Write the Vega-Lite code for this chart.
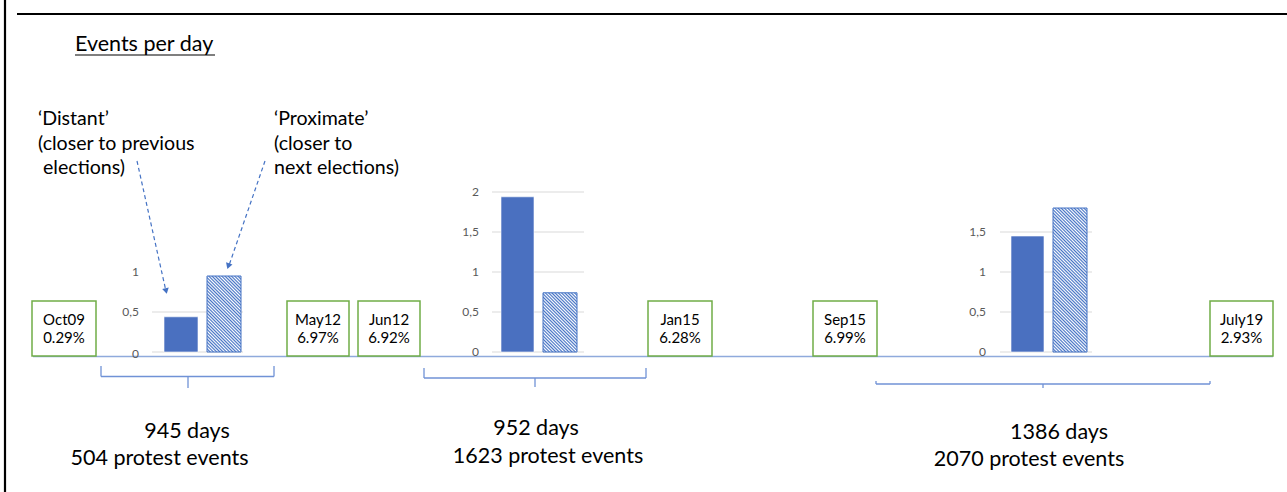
{
  "$schema": "https://vega.github.io/schema/vega-lite/v6.json",
  "width": 1287,
  "height": 492,
  "padding": 0,
  "autosize": {"type": "none"},
  "background": "white",
  "config": {"view": {"stroke": null}, "font": "Lato"},
  "datasets": {
    "frame": [
      {"x": 5, "y": 0, "x2": 5, "y2": 492},
      {"x": 17, "y": 14, "x2": 1287, "y2": 14}
    ],
    "underline": [{"x": 75, "y": 55, "x2": 215, "y2": 55}],
    "baseline": [{"x": 33, "y": 356.5, "x2": 1273, "y2": 356.5}],
    "braces": [
      {"x": 101, "y": 366, "x2": 101, "y2": 376.5},
      {"x": 101, "y": 376.5, "x2": 274, "y2": 376.5},
      {"x": 274, "y": 366, "x2": 274, "y2": 376.5},
      {"x": 188, "y": 376.5, "x2": 188, "y2": 388},
      {"x": 424, "y": 368, "x2": 424, "y2": 378},
      {"x": 424, "y": 378, "x2": 646, "y2": 378},
      {"x": 646, "y": 368, "x2": 646, "y2": 378},
      {"x": 535, "y": 378, "x2": 535, "y2": 387},
      {"x": 876, "y": 381, "x2": 876, "y2": 384},
      {"x": 876, "y": 384, "x2": 1210, "y2": 384},
      {"x": 1210, "y": 381, "x2": 1210, "y2": 384},
      {"x": 1043, "y": 384, "x2": 1043, "y2": 388}
    ],
    "arrows": [
      {"x": 137, "y": 161, "x2": 165.5, "y2": 289},
      {"x": 265, "y": 161, "x2": 229.5, "y2": 264}
    ],
    "arrowheads": [
      {"x": 166.1, "y": 291, "angle": -12.4},
      {"x": 228.3, "y": 266.2, "angle": 18.9}
    ],
    "heading": [{"text": "Events per day", "x": 75, "y": 51}],
    "notes": [
      {"text": "‘Distant’", "x": 38, "y": 125},
      {"text": "(closer to previous", "x": 38, "y": 150},
      {"text": "elections)", "x": 43, "y": 174},
      {"text": "‘Proximate’", "x": 274, "y": 125},
      {"text": "(closer to", "x": 274, "y": 150},
      {"text": "next elections)", "x": 274, "y": 174}
    ],
    "counts": [
      {"text": "945 days", "x": 187, "y": 438},
      {"text": "504 protest events", "x": 159.5, "y": 465},
      {"text": "952 days", "x": 536, "y": 435},
      {"text": "1623 protest events", "x": 548, "y": 463},
      {"text": "1386 days", "x": 1059, "y": 439},
      {"text": "2070 protest events", "x": 1029, "y": 466}
    ],
    "boxes": [
      {"label": "Oct09", "share": "0.29%", "x": 32, "x2": 96},
      {"label": "May12", "share": "6.97%", "x": 287, "x2": 349},
      {"label": "Jun12", "share": "6.92%", "x": 358, "x2": 420},
      {"label": "Jan15", "share": "6.28%", "x": 648, "x2": 712},
      {"label": "Sep15", "share": "6.99%", "x": 813, "x2": 877},
      {"label": "July19", "share": "2.93%", "x": 1210, "x2": 1273}
    ],
    "grid": [
      {"x": 152, "x2": 243, "v": 0},
      {"x": 152, "x2": 243, "v": 0.5},
      {"x": 492, "x2": 584, "v": 0},
      {"x": 492, "x2": 584, "v": 0.5},
      {"x": 492, "x2": 584, "v": 1},
      {"x": 492, "x2": 584, "v": 1.5},
      {"x": 492, "x2": 584, "v": 2},
      {"x": 1000, "x2": 1092, "v": 0},
      {"x": 1000, "x2": 1092, "v": 0.5},
      {"x": 1000, "x2": 1092, "v": 1},
      {"x": 1000, "x2": 1092, "v": 1.5}
    ],
    "ticks": [
      {"label": "0", "x": 139, "v": -0.03},
      {"label": "0,5", "x": 139, "v": 0.5},
      {"label": "1", "x": 139, "v": 1},
      {"label": "0", "x": 479, "v": 0},
      {"label": "0,5", "x": 479, "v": 0.5},
      {"label": "1", "x": 479, "v": 1},
      {"label": "1,5", "x": 479, "v": 1.5},
      {"label": "2", "x": 479, "v": 2},
      {"label": "0", "x": 986, "v": 0},
      {"label": "0,5", "x": 986, "v": 0.5},
      {"label": "1", "x": 986, "v": 1},
      {"label": "1,5", "x": 986, "v": 1.5}
    ],
    "bars": [
      {"period": "Oct09-May12", "phase": "Distant", "x": 164, "x2": 198, "v": 0.44},
      {"period": "Oct09-May12", "phase": "Proximate", "x": 207, "x2": 241, "v": 0.95},
      {"period": "Jun12-Jan15", "phase": "Distant", "x": 501, "x2": 534, "v": 1.94},
      {"period": "Jun12-Jan15", "phase": "Proximate", "x": 543, "x2": 577, "v": 0.74},
      {"period": "Sep15-July19", "phase": "Distant", "x": 1011, "x2": 1044, "v": 1.45},
      {"period": "Sep15-July19", "phase": "Proximate", "x": 1053, "x2": 1087, "v": 1.8}
    ]
  },
  "layer": [
    {
      "layer": [
        {
          "data": {"name": "baseline"},
          "mark": {"type": "rule", "stroke": "#8FAADC", "strokeWidth": 1.5},
          "encoding": {
            "x": {"field": "x", "type": "quantitative", "scale": {"domain": [0, 1287], "nice": false, "zero": false}, "axis": null},
            "x2": {"field": "x2"},
            "y": {"field": "y", "type": "quantitative", "scale": {"domain": [0, 492], "reverse": true, "nice": false, "zero": false}, "axis": null},
            "y2": {"field": "y2"}
          }
        },
        {
          "data": {"name": "frame"},
          "mark": {"type": "rule", "stroke": "black", "strokeWidth": 2.2},
          "encoding": {
            "x": {"field": "x", "type": "quantitative", "scale": {"domain": [0, 1287], "nice": false, "zero": false}, "axis": null},
            "x2": {"field": "x2"},
            "y": {"field": "y", "type": "quantitative", "scale": {"domain": [0, 492], "reverse": true, "nice": false, "zero": false}, "axis": null},
            "y2": {"field": "y2"}
          }
        },
        {
          "data": {"name": "underline"},
          "mark": {"type": "rule", "stroke": "black", "strokeWidth": 1.2},
          "encoding": {
            "x": {"field": "x", "type": "quantitative", "scale": {"domain": [0, 1287], "nice": false, "zero": false}, "axis": null},
            "x2": {"field": "x2"},
            "y": {"field": "y", "type": "quantitative", "scale": {"domain": [0, 492], "reverse": true, "nice": false, "zero": false}, "axis": null},
            "y2": {"field": "y2"}
          }
        },
        {
          "data": {"name": "braces"},
          "mark": {"type": "rule", "stroke": "#7092D6", "strokeWidth": 1.3},
          "encoding": {
            "x": {"field": "x", "type": "quantitative", "scale": {"domain": [0, 1287], "nice": false, "zero": false}, "axis": null},
            "x2": {"field": "x2"},
            "y": {"field": "y", "type": "quantitative", "scale": {"domain": [0, 492], "reverse": true, "nice": false, "zero": false}, "axis": null},
            "y2": {"field": "y2"}
          }
        },
        {
          "data": {"name": "arrows"},
          "mark": {"type": "rule", "stroke": "#4472C4", "strokeWidth": 1.2, "strokeDash": [4, 3]},
          "encoding": {
            "x": {"field": "x", "type": "quantitative", "scale": {"domain": [0, 1287], "nice": false, "zero": false}, "axis": null},
            "x2": {"field": "x2"},
            "y": {"field": "y", "type": "quantitative", "scale": {"domain": [0, 492], "reverse": true, "nice": false, "zero": false}, "axis": null},
            "y2": {"field": "y2"}
          }
        },
        {
          "data": {"name": "arrowheads"},
          "mark": {"type": "point", "shape": "triangle-down", "filled": true, "fill": "#4472C4", "size": 45, "strokeWidth": 0, "opacity": 1},
          "encoding": {
            "x": {"field": "x", "type": "quantitative", "scale": {"domain": [0, 1287], "nice": false, "zero": false}, "axis": null},
            "y": {"field": "y", "type": "quantitative", "scale": {"domain": [0, 492], "reverse": true, "nice": false, "zero": false}, "axis": null},
            "angle": {"field": "angle", "type": "quantitative", "scale": null}
          }
        },
        {
          "data": {"name": "boxes"},
          "mark": {"type": "rect", "fill": "white", "stroke": "#70AD47", "strokeWidth": 1.5},
          "encoding": {
            "x": {"field": "x", "type": "quantitative", "scale": {"domain": [0, 1287], "nice": false, "zero": false}, "axis": null},
            "x2": {"field": "x2"},
            "y": {"datum": 301, "type": "quantitative", "scale": {"domain": [0, 492], "reverse": true, "nice": false, "zero": false}, "axis": null},
            "y2": {"datum": 356}
          }
        },
        {
          "data": {"name": "boxes"},
          "transform": [{"calculate": "(datum.x + datum.x2) / 2", "as": "xc"}],
          "mark": {"type": "text", "font": "Lato", "fontSize": 15, "color": "black", "align": "center", "baseline": "alphabetic"},
          "encoding": {
            "x": {"field": "xc", "type": "quantitative", "scale": {"domain": [0, 1287], "nice": false, "zero": false}, "axis": null},
            "y": {"datum": 325, "type": "quantitative", "scale": {"domain": [0, 492], "reverse": true, "nice": false, "zero": false}, "axis": null},
            "text": {"field": "label"}
          }
        },
        {
          "data": {"name": "boxes"},
          "transform": [{"calculate": "(datum.x + datum.x2) / 2", "as": "xc"}],
          "mark": {"type": "text", "font": "Lato", "fontSize": 15, "color": "black", "align": "center", "baseline": "alphabetic"},
          "encoding": {
            "x": {"field": "xc", "type": "quantitative", "scale": {"domain": [0, 1287], "nice": false, "zero": false}, "axis": null},
            "y": {"datum": 343, "type": "quantitative", "scale": {"domain": [0, 492], "reverse": true, "nice": false, "zero": false}, "axis": null},
            "text": {"field": "share"}
          }
        },
        {
          "data": {"name": "heading"},
          "mark": {"type": "text", "font": "Lato", "fontSize": 21.5, "color": "black", "align": "left", "baseline": "alphabetic"},
          "encoding": {
            "x": {"field": "x", "type": "quantitative", "scale": {"domain": [0, 1287], "nice": false, "zero": false}, "axis": null},
            "y": {"field": "y", "type": "quantitative", "scale": {"domain": [0, 492], "reverse": true, "nice": false, "zero": false}, "axis": null},
            "text": {"field": "text"}
          }
        },
        {
          "data": {"name": "notes"},
          "mark": {"type": "text", "font": "Lato", "fontSize": 19.6, "color": "black", "align": "left", "baseline": "alphabetic"},
          "encoding": {
            "x": {"field": "x", "type": "quantitative", "scale": {"domain": [0, 1287], "nice": false, "zero": false}, "axis": null},
            "y": {"field": "y", "type": "quantitative", "scale": {"domain": [0, 492], "reverse": true, "nice": false, "zero": false}, "axis": null},
            "text": {"field": "text"}
          }
        },
        {
          "data": {"name": "counts"},
          "mark": {"type": "text", "font": "Lato", "fontSize": 21.5, "color": "black", "align": "center", "baseline": "alphabetic"},
          "encoding": {
            "x": {"field": "x", "type": "quantitative", "scale": {"domain": [0, 1287], "nice": false, "zero": false}, "axis": null},
            "y": {"field": "y", "type": "quantitative", "scale": {"domain": [0, 492], "reverse": true, "nice": false, "zero": false}, "axis": null},
            "text": {"field": "text"}
          }
        }
      ]
    },
    {
      "layer": [
        {
          "data": {"name": "grid"},
          "mark": {"type": "rule", "stroke": "#D9D9D9", "strokeWidth": 1},
          "encoding": {
            "x": {"field": "x", "type": "quantitative", "scale": {"domain": [0, 1287], "nice": false, "zero": false}, "axis": null},
            "x2": {"field": "x2"},
            "y": {"field": "v", "type": "quantitative", "scale": {"domain": [-1.75, 4.4], "nice": false, "zero": false}, "axis": null}
          }
        },
        {
          "data": {"name": "ticks"},
          "mark": {"type": "text", "font": "Lato", "fontSize": 12, "color": "#595959", "align": "right", "baseline": "middle"},
          "encoding": {
            "x": {"field": "x", "type": "quantitative", "scale": {"domain": [0, 1287], "nice": false, "zero": false}, "axis": null},
            "y": {"field": "v", "type": "quantitative", "scale": {"domain": [-1.75, 4.4], "nice": false, "zero": false}, "axis": null},
            "text": {"field": "label"}
          }
        },
        {
          "data": {"name": "bars"},
          "transform": [{"filter": "datum.phase === 'Distant'"}],
          "mark": {"type": "rect", "fill": "#4A70C0", "stroke": "white", "strokeWidth": 0.6},
          "encoding": {
            "x": {"field": "x", "type": "quantitative", "scale": {"domain": [0, 1287], "nice": false, "zero": false}, "axis": null},
            "x2": {"field": "x2"},
            "y": {"field": "v", "type": "quantitative", "scale": {"domain": [-1.75, 4.4], "nice": false, "zero": false}, "axis": null},
            "y2": {"datum": 0}
          }
        },
        {
          "data": {"name": "bars"},
          "transform": [{"filter": "datum.phase === 'Proximate' && datum.period === 'Oct09-May12'"}],
          "mark": {"type": "rect", "stroke": "#4472C4", "strokeWidth": 1,
            "fill": {"gradient": "linear", "x1": 0, "y1": 1, "x2": 0.8731, "y2": -0.9515, "stops": [
              {"offset": 0, "color": "#4472c4"}, {"offset": 0.0091, "color": "#ffffff"}, {"offset": 0.0182, "color": "#4472c4"}, {"offset": 0.0273, "color": "#ffffff"},
              {"offset": 0.0364, "color": "#4472c4"}, {"offset": 0.0455, "color": "#ffffff"}, {"offset": 0.0545, "color": "#4472c4"}, {"offset": 0.0636, "color": "#ffffff"},
              {"offset": 0.0727, "color": "#4472c4"}, {"offset": 0.0818, "color": "#ffffff"}, {"offset": 0.0909, "color": "#4472c4"}, {"offset": 0.1, "color": "#ffffff"},
              {"offset": 0.1091, "color": "#4472c4"}, {"offset": 0.1182, "color": "#ffffff"}, {"offset": 0.1273, "color": "#4472c4"}, {"offset": 0.1364, "color": "#ffffff"},
              {"offset": 0.1455, "color": "#4472c4"}, {"offset": 0.1545, "color": "#ffffff"}, {"offset": 0.1636, "color": "#4472c4"}, {"offset": 0.1727, "color": "#ffffff"},
              {"offset": 0.1818, "color": "#4472c4"}, {"offset": 0.1909, "color": "#ffffff"}, {"offset": 0.2, "color": "#4472c4"}, {"offset": 0.2091, "color": "#ffffff"},
              {"offset": 0.2182, "color": "#4472c4"}, {"offset": 0.2273, "color": "#ffffff"}, {"offset": 0.2364, "color": "#4472c4"}, {"offset": 0.2455, "color": "#ffffff"},
              {"offset": 0.2545, "color": "#4472c4"}, {"offset": 0.2636, "color": "#ffffff"}, {"offset": 0.2727, "color": "#4472c4"}, {"offset": 0.2818, "color": "#ffffff"},
              {"offset": 0.2909, "color": "#4472c4"}, {"offset": 0.3, "color": "#ffffff"}, {"offset": 0.3091, "color": "#4472c4"}, {"offset": 0.3182, "color": "#ffffff"},
              {"offset": 0.3273, "color": "#4472c4"}, {"offset": 0.3364, "color": "#ffffff"}, {"offset": 0.3455, "color": "#4472c4"}, {"offset": 0.3545, "color": "#ffffff"},
              {"offset": 0.3636, "color": "#4472c4"}, {"offset": 0.3727, "color": "#ffffff"}, {"offset": 0.3818, "color": "#4472c4"}, {"offset": 0.3909, "color": "#ffffff"},
              {"offset": 0.4, "color": "#4472c4"}, {"offset": 0.4091, "color": "#ffffff"}, {"offset": 0.4182, "color": "#4472c4"}, {"offset": 0.4273, "color": "#ffffff"},
              {"offset": 0.4364, "color": "#4472c4"}, {"offset": 0.4455, "color": "#ffffff"}, {"offset": 0.4545, "color": "#4472c4"}, {"offset": 0.4636, "color": "#ffffff"},
              {"offset": 0.4727, "color": "#4472c4"}, {"offset": 0.4818, "color": "#ffffff"}, {"offset": 0.4909, "color": "#4472c4"}, {"offset": 0.5, "color": "#ffffff"},
              {"offset": 0.5091, "color": "#4472c4"}, {"offset": 0.5182, "color": "#ffffff"}, {"offset": 0.5273, "color": "#4472c4"}, {"offset": 0.5364, "color": "#ffffff"},
              {"offset": 0.5455, "color": "#4472c4"}, {"offset": 0.5545, "color": "#ffffff"}, {"offset": 0.5636, "color": "#4472c4"}, {"offset": 0.5727, "color": "#ffffff"},
              {"offset": 0.5818, "color": "#4472c4"}, {"offset": 0.5909, "color": "#ffffff"}, {"offset": 0.6, "color": "#4472c4"}, {"offset": 0.6091, "color": "#ffffff"},
              {"offset": 0.6182, "color": "#4472c4"}, {"offset": 0.6273, "color": "#ffffff"}, {"offset": 0.6364, "color": "#4472c4"}
            ]}
          },
          "encoding": {
            "x": {"field": "x", "type": "quantitative", "scale": {"domain": [0, 1287], "nice": false, "zero": false}, "axis": null},
            "x2": {"field": "x2"},
            "y": {"field": "v", "type": "quantitative", "scale": {"domain": [-1.75, 4.4], "nice": false, "zero": false}, "axis": null},
            "y2": {"datum": 0}
          }
        },
        {
          "data": {"name": "bars"},
          "transform": [{"filter": "datum.phase === 'Proximate' && datum.period === 'Jun12-Jan15'"}],
          "mark": {"type": "rect", "stroke": "#4472C4", "strokeWidth": 1,
            "fill": {"gradient": "linear", "x1": 0, "y1": 1, "x2": 1.2985, "y2": -1.261, "stops": [
              {"offset": 0, "color": "#4472c4"}, {"offset": 0.0091, "color": "#ffffff"}, {"offset": 0.0182, "color": "#4472c4"}, {"offset": 0.0273, "color": "#ffffff"},
              {"offset": 0.0364, "color": "#4472c4"}, {"offset": 0.0455, "color": "#ffffff"}, {"offset": 0.0545, "color": "#4472c4"}, {"offset": 0.0636, "color": "#ffffff"},
              {"offset": 0.0727, "color": "#4472c4"}, {"offset": 0.0818, "color": "#ffffff"}, {"offset": 0.0909, "color": "#4472c4"}, {"offset": 0.1, "color": "#ffffff"},
              {"offset": 0.1091, "color": "#4472c4"}, {"offset": 0.1182, "color": "#ffffff"}, {"offset": 0.1273, "color": "#4472c4"}, {"offset": 0.1364, "color": "#ffffff"},
              {"offset": 0.1455, "color": "#4472c4"}, {"offset": 0.1545, "color": "#ffffff"}, {"offset": 0.1636, "color": "#4472c4"}, {"offset": 0.1727, "color": "#ffffff"},
              {"offset": 0.1818, "color": "#4472c4"}, {"offset": 0.1909, "color": "#ffffff"}, {"offset": 0.2, "color": "#4472c4"}, {"offset": 0.2091, "color": "#ffffff"},
              {"offset": 0.2182, "color": "#4472c4"}, {"offset": 0.2273, "color": "#ffffff"}, {"offset": 0.2364, "color": "#4472c4"}, {"offset": 0.2455, "color": "#ffffff"},
              {"offset": 0.2545, "color": "#4472c4"}, {"offset": 0.2636, "color": "#ffffff"}, {"offset": 0.2727, "color": "#4472c4"}, {"offset": 0.2818, "color": "#ffffff"},
              {"offset": 0.2909, "color": "#4472c4"}, {"offset": 0.3, "color": "#ffffff"}, {"offset": 0.3091, "color": "#4472c4"}, {"offset": 0.3182, "color": "#ffffff"},
              {"offset": 0.3273, "color": "#4472c4"}, {"offset": 0.3364, "color": "#ffffff"}, {"offset": 0.3455, "color": "#4472c4"}, {"offset": 0.3545, "color": "#ffffff"},
              {"offset": 0.3636, "color": "#4472c4"}, {"offset": 0.3727, "color": "#ffffff"}, {"offset": 0.3818, "color": "#4472c4"}, {"offset": 0.3909, "color": "#ffffff"},
              {"offset": 0.4, "color": "#4472c4"}, {"offset": 0.4091, "color": "#ffffff"}, {"offset": 0.4182, "color": "#4472c4"}, {"offset": 0.4273, "color": "#ffffff"},
              {"offset": 0.4364, "color": "#4472c4"}, {"offset": 0.4455, "color": "#ffffff"}, {"offset": 0.4545, "color": "#4472c4"}, {"offset": 0.4636, "color": "#ffffff"},
              {"offset": 0.4727, "color": "#4472c4"}, {"offset": 0.4818, "color": "#ffffff"}, {"offset": 0.4909, "color": "#4472c4"}, {"offset": 0.5, "color": "#ffffff"},
              {"offset": 0.5091, "color": "#4472c4"}, {"offset": 0.5182, "color": "#ffffff"}, {"offset": 0.5273, "color": "#4472c4"}, {"offset": 0.5364, "color": "#ffffff"},
              {"offset": 0.5455, "color": "#4472c4"}
            ]}
          },
          "encoding": {
            "x": {"field": "x", "type": "quantitative", "scale": {"domain": [0, 1287], "nice": false, "zero": false}, "axis": null},
            "x2": {"field": "x2"},
            "y": {"field": "v", "type": "quantitative", "scale": {"domain": [-1.75, 4.4], "nice": false, "zero": false}, "axis": null},
            "y2": {"datum": 0}
          }
        },
        {
          "data": {"name": "bars"},
          "transform": [{"filter": "datum.phase === 'Proximate' && datum.period === 'Sep15-July19'"}],
          "mark": {"type": "rect", "stroke": "#4472C4", "strokeWidth": 1,
            "fill": {"gradient": "linear", "x1": 0, "y1": 1, "x2": 0.2765, "y2": -0.1708, "stops": [
              {"offset": 0, "color": "#4472c4"}, {"offset": 0.0091, "color": "#ffffff"}, {"offset": 0.0182, "color": "#4472c4"}, {"offset": 0.0273, "color": "#ffffff"},
              {"offset": 0.0364, "color": "#4472c4"}, {"offset": 0.0455, "color": "#ffffff"}, {"offset": 0.0545, "color": "#4472c4"}, {"offset": 0.0636, "color": "#ffffff"},
              {"offset": 0.0727, "color": "#4472c4"}, {"offset": 0.0818, "color": "#ffffff"}, {"offset": 0.0909, "color": "#4472c4"}, {"offset": 0.1, "color": "#ffffff"},
              {"offset": 0.1091, "color": "#4472c4"}, {"offset": 0.1182, "color": "#ffffff"}, {"offset": 0.1273, "color": "#4472c4"}, {"offset": 0.1364, "color": "#ffffff"},
              {"offset": 0.1455, "color": "#4472c4"}, {"offset": 0.1545, "color": "#ffffff"}, {"offset": 0.1636, "color": "#4472c4"}, {"offset": 0.1727, "color": "#ffffff"},
              {"offset": 0.1818, "color": "#4472c4"}, {"offset": 0.1909, "color": "#ffffff"}, {"offset": 0.2, "color": "#4472c4"}, {"offset": 0.2091, "color": "#ffffff"},
              {"offset": 0.2182, "color": "#4472c4"}, {"offset": 0.2273, "color": "#ffffff"}, {"offset": 0.2364, "color": "#4472c4"}, {"offset": 0.2455, "color": "#ffffff"},
              {"offset": 0.2545, "color": "#4472c4"}, {"offset": 0.2636, "color": "#ffffff"}, {"offset": 0.2727, "color": "#4472c4"}, {"offset": 0.2818, "color": "#ffffff"},
              {"offset": 0.2909, "color": "#4472c4"}, {"offset": 0.3, "color": "#ffffff"}, {"offset": 0.3091, "color": "#4472c4"}, {"offset": 0.3182, "color": "#ffffff"},
              {"offset": 0.3273, "color": "#4472c4"}, {"offset": 0.3364, "color": "#ffffff"}, {"offset": 0.3455, "color": "#4472c4"}, {"offset": 0.3545, "color": "#ffffff"},
              {"offset": 0.3636, "color": "#4472c4"}, {"offset": 0.3727, "color": "#ffffff"}, {"offset": 0.3818, "color": "#4472c4"}, {"offset": 0.3909, "color": "#ffffff"},
              {"offset": 0.4, "color": "#4472c4"}, {"offset": 0.4091, "color": "#ffffff"}, {"offset": 0.4182, "color": "#4472c4"}, {"offset": 0.4273, "color": "#ffffff"},
              {"offset": 0.4364, "color": "#4472c4"}, {"offset": 0.4455, "color": "#ffffff"}, {"offset": 0.4545, "color": "#4472c4"}, {"offset": 0.4636, "color": "#ffffff"},
              {"offset": 0.4727, "color": "#4472c4"}, {"offset": 0.4818, "color": "#ffffff"}, {"offset": 0.4909, "color": "#4472c4"}, {"offset": 0.5, "color": "#ffffff"},
              {"offset": 0.5091, "color": "#4472c4"}, {"offset": 0.5182, "color": "#ffffff"}, {"offset": 0.5273, "color": "#4472c4"}, {"offset": 0.5364, "color": "#ffffff"},
              {"offset": 0.5455, "color": "#4472c4"}, {"offset": 0.5545, "color": "#ffffff"}, {"offset": 0.5636, "color": "#4472c4"}, {"offset": 0.5727, "color": "#ffffff"},
              {"offset": 0.5818, "color": "#4472c4"}, {"offset": 0.5909, "color": "#ffffff"}, {"offset": 0.6, "color": "#4472c4"}, {"offset": 0.6091, "color": "#ffffff"},
              {"offset": 0.6182, "color": "#4472c4"}, {"offset": 0.6273, "color": "#ffffff"}, {"offset": 0.6364, "color": "#4472c4"}, {"offset": 0.6455, "color": "#ffffff"},
              {"offset": 0.6545, "color": "#4472c4"}, {"offset": 0.6636, "color": "#ffffff"}, {"offset": 0.6727, "color": "#4472c4"}, {"offset": 0.6818, "color": "#ffffff"},
              {"offset": 0.6909, "color": "#4472c4"}, {"offset": 0.7, "color": "#ffffff"}, {"offset": 0.7091, "color": "#4472c4"}, {"offset": 0.7182, "color": "#ffffff"},
              {"offset": 0.7273, "color": "#4472c4"}, {"offset": 0.7364, "color": "#ffffff"}, {"offset": 0.7455, "color": "#4472c4"}, {"offset": 0.7545, "color": "#ffffff"},
              {"offset": 0.7636, "color": "#4472c4"}, {"offset": 0.7727, "color": "#ffffff"}, {"offset": 0.7818, "color": "#4472c4"}, {"offset": 0.7909, "color": "#ffffff"},
              {"offset": 0.8, "color": "#4472c4"}, {"offset": 0.8091, "color": "#ffffff"}, {"offset": 0.8182, "color": "#4472c4"}, {"offset": 0.8273, "color": "#ffffff"},
              {"offset": 0.8364, "color": "#4472c4"}, {"offset": 0.8455, "color": "#ffffff"}, {"offset": 0.8545, "color": "#4472c4"}, {"offset": 0.8636, "color": "#ffffff"},
              {"offset": 0.8727, "color": "#4472c4"}, {"offset": 0.8818, "color": "#ffffff"}, {"offset": 0.8909, "color": "#4472c4"}, {"offset": 0.9, "color": "#ffffff"},
              {"offset": 0.9091, "color": "#4472c4"}, {"offset": 0.9182, "color": "#ffffff"}, {"offset": 0.9273, "color": "#4472c4"}, {"offset": 0.9364, "color": "#ffffff"},
              {"offset": 0.9455, "color": "#4472c4"}, {"offset": 0.9545, "color": "#ffffff"}, {"offset": 0.9636, "color": "#4472c4"}, {"offset": 0.9727, "color": "#ffffff"},
              {"offset": 0.9818, "color": "#4472c4"}, {"offset": 0.9909, "color": "#ffffff"}, {"offset": 1, "color": "#4472c4"}
            ]}
          },
          "encoding": {
            "x": {"field": "x", "type": "quantitative", "scale": {"domain": [0, 1287], "nice": false, "zero": false}, "axis": null},
            "x2": {"field": "x2"},
            "y": {"field": "v", "type": "quantitative", "scale": {"domain": [-1.75, 4.4], "nice": false, "zero": false}, "axis": null},
            "y2": {"datum": 0}
          }
        }
      ]
    }
  ],
  "resolve": {"scale": {"y": "independent"}}
}
